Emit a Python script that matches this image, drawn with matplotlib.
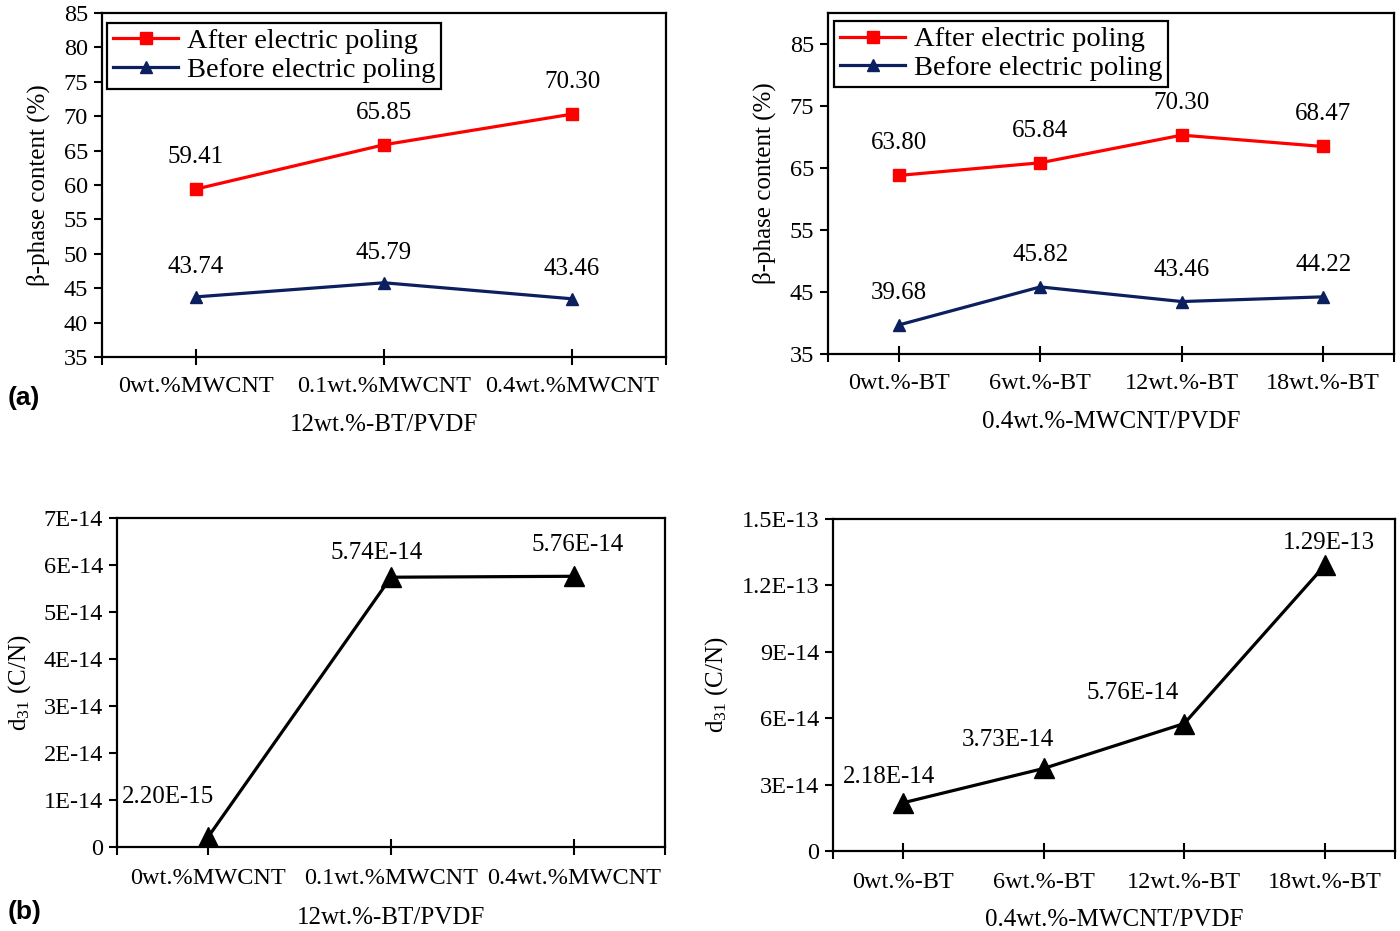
import matplotlib
matplotlib.use("Agg")
import matplotlib.pyplot as plt

plt.rcParams['font.family'] = ['Liberation Serif', 'DejaVu Serif']
plt.rcParams['mathtext.fontset'] = 'custom'
plt.rcParams['mathtext.rm'] = 'Liberation Serif'
plt.rcParams['mathtext.it'] = 'Liberation Serif:italic'

# ---------------- data ----------------
mwcnt_cats = ["0wt.%MWCNT", "0.1wt.%MWCNT", "0.4wt.%MWCNT"]
mwcnt_after = [59.41, 65.85, 70.30]
mwcnt_before = [43.74, 45.79, 43.46]
mwcnt_xlabel = "12wt.%-BT/PVDF"

bt_cats = ["0wt.%-BT", "6wt.%-BT", "12wt.%-BT", "18wt.%-BT"]
bt_after = [63.80, 65.84, 70.30, 68.47]
bt_before = [39.68, 45.82, 43.46, 44.22]
bt_xlabel = "0.4wt.%-MWCNT/PVDF"

d31_mwcnt = [2.20e-15, 5.74e-14, 5.76e-14]
d31_bt = [2.18e-14, 3.73e-14, 5.76e-14, 1.29e-13]

beta_ylabel = "β-phase content (%)"
d31_ylabel = r"d$_{\mathregular{31}}$ (C/N)"
legend_after = "After electric poling"
legend_before = "Before electric poling"

tl_yticks = [35, 40, 45, 50, 55, 60, 65, 70, 75, 80, 85]
tr_yticks = [35, 45, 55, 65, 75, 85]
bl_yticks = [0, 1e-14, 2e-14, 3e-14, 4e-14, 5e-14, 6e-14, 7e-14]
bl_yticklabels = ["0", "1E-14", "2E-14", "3E-14", "4E-14", "5E-14", "6E-14", "7E-14"]
br_yticks = [0, 3e-14, 6e-14, 9e-14, 1.2e-13, 1.5e-13]
br_yticklabels = ["0", "3E-14", "6E-14", "9E-14", "1.2E-13", "1.5E-13"]

# ---------------- style ----------------
W, H = 1400, 931
RED = "#ff0000"
NAVY = "#0c1f5e"
TICK_FS = 17.5
LAB_FS = 18
ANN_FS = 18
LEG_FS = 20.5

fig = plt.figure(figsize=(W / 100, H / 100), dpi=100)


def ax_at(l, r, t, b):
    return fig.add_axes([l / W, 1 - b / H, (r - l) / W, (b - t) / H])


def style(ax, cats, ylim, yticks, yticklabels=None, xpad=10):
    n = len(cats)
    ax.set_xlim(-0.5, n - 0.5)
    ax.set_ylim(*ylim)
    ax.set_xticks(range(n))
    ax.set_xticklabels(cats, fontsize=TICK_FS)
    ax.set_xticks([-0.5, n - 0.5], minor=True)
    ax.set_yticks(yticks)
    if yticklabels is not None:
        ax.set_yticklabels(yticklabels)
    ax.tick_params(axis='y', direction='out', length=6, width=1.5, labelsize=TICK_FS, pad=4)
    ax.tick_params(axis='x', which='major', direction='inout', length=12, width=1.5, pad=xpad)
    ax.tick_params(axis='x', which='minor', direction='out', length=6, width=1.5)
    for s in ax.spines.values():
        s.set_linewidth(1.6)
        s.set_color('black')


def ann(ax, x, y, text, dx, dy):
    ax.annotate(text, (x, y), xytext=(dx * 0.72, dy * 0.72), textcoords='offset points',
                ha='center', va='center', fontsize=ANN_FS)


def legend(ax, anchor):
    leg = ax.legend(loc='upper left', bbox_to_anchor=anchor, borderaxespad=0,
                    fontsize=LEG_FS, fancybox=False, edgecolor='black', framealpha=1,
                    handlelength=2.3, labelspacing=0.1, borderpad=0.2, handletextpad=0.3)
    leg.get_frame().set_linewidth(1.6)


# ---- top-left ----
ax = ax_at(102, 666, 13, 357)
x = list(range(len(mwcnt_cats)))
ax.plot(x, mwcnt_after, color=RED, lw=2.3, marker='s', ms=9, label=legend_after)
ax.plot(x, mwcnt_before, color=NAVY, lw=2.3, marker='^', ms=8, label=legend_before)
style(ax, mwcnt_cats, (35, 85), tl_yticks, xpad=8)
for i in x:
    ann(ax, i, mwcnt_after[i], f"{mwcnt_after[i]:.2f}", 0, 32)
    ann(ax, i, mwcnt_before[i], f"{mwcnt_before[i]:.2f}", 0, 30)
ax.set_ylabel(beta_ylabel, fontsize=LAB_FS, labelpad=10)
ax.set_xlabel(mwcnt_xlabel, fontsize=LAB_FS, labelpad=12)
legend(ax, (0.009, 0.972))

# ---- top-right ----
ax = ax_at(828, 1394, 13, 354)
x = list(range(len(bt_cats)))
ax.plot(x, bt_after, color=RED, lw=2.3, marker='s', ms=9, label=legend_after)
ax.plot(x, bt_before, color=NAVY, lw=2.3, marker='^', ms=8, label=legend_before)
style(ax, bt_cats, (35, 90), tr_yticks, xpad=8)
for i in x:
    ann(ax, i, bt_after[i], f"{bt_after[i]:.2f}", 0, 32)
    ann(ax, i, bt_before[i], f"{bt_before[i]:.2f}", 0, 32)
ax.set_ylabel(beta_ylabel, fontsize=LAB_FS, labelpad=10)
ax.set_xlabel(bt_xlabel, fontsize=LAB_FS, labelpad=12)
legend(ax, (0.011, 0.977))

# ---- bottom-left ----
ax = ax_at(117, 665, 518, 847)
x = list(range(len(mwcnt_cats)))
ax.plot(x, d31_mwcnt, color='black', lw=2.3, marker='^', ms=15)
style(ax, mwcnt_cats, (0, 7e-14), bl_yticks, bl_yticklabels, xpad=9)
bl_off = [(-40, 40), (-14, 24), (4, 31)]
for i in x:
    ann(ax, i, d31_mwcnt[i], f"{d31_mwcnt[i]:.2E}", *bl_off[i])
ax.set_ylabel(d31_ylabel, fontsize=LAB_FS, labelpad=8)
ax.set_xlabel(mwcnt_xlabel, fontsize=LAB_FS, labelpad=13)

# ---- bottom-right ----
ax = ax_at(833, 1395, 519, 851)
x = list(range(len(bt_cats)))
ax.plot(x, d31_bt, color='black', lw=2.3, marker='^', ms=15)
style(ax, bt_cats, (0, 1.5e-13), br_yticks, br_yticklabels, xpad=9)
br_off = [(-14, 26), (-36, 28), (-52, 31), (4, 22)]
for i in x:
    ann(ax, i, d31_bt[i], f"{d31_bt[i]:.2E}", *br_off[i])
ax.set_ylabel(d31_ylabel, fontsize=LAB_FS, labelpad=8)
ax.set_xlabel(bt_xlabel, fontsize=LAB_FS, labelpad=12)

# panel letters
fig.text(8 / W, 1 - 398 / H, "(a)", fontsize=19, fontweight='bold',
         family=['Liberation Sans', 'DejaVu Sans'], ha='left', va='center')
fig.text(8 / W, 1 - 912 / H, "(b)", fontsize=19, fontweight='bold',
         family=['Liberation Sans', 'DejaVu Sans'], ha='left', va='center')

fig.savefig("out.png", dpi=100)
